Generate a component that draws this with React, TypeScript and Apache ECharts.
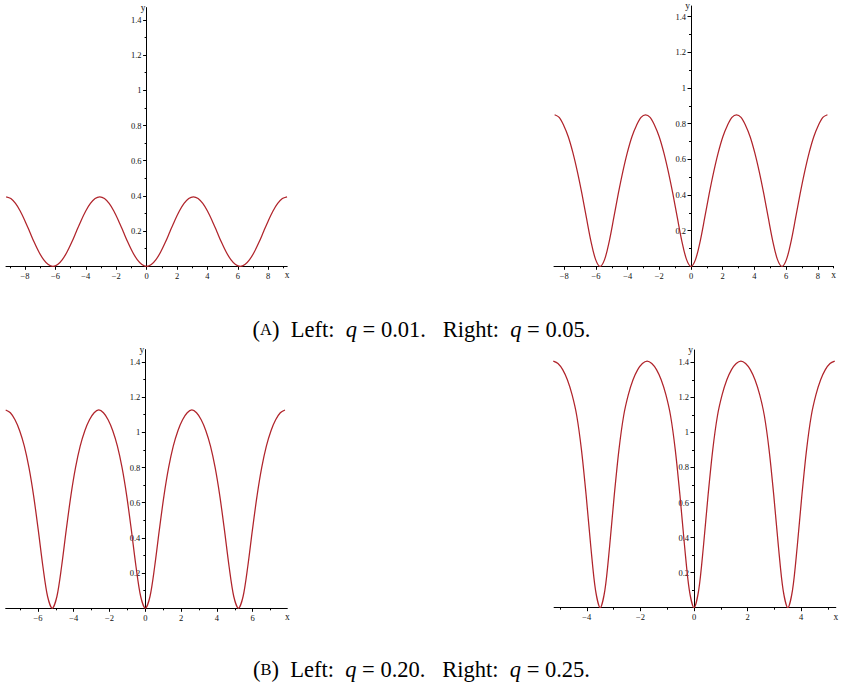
import React, { useEffect, useRef } from "react";
import * as echarts from "echarts";

// ---- data ----
// q = 0.01
const x1 = [-9.24, -8.932, -8.624, -8.316, -8.008, -7.7, -7.392, -7.084, -6.776, -6.468, -6.16, -5.852, -5.544, -5.236, -4.928, -4.62, -4.312, -4.004, -3.696, -3.388, -3.08, -2.772, -2.464, -2.156, -1.848, -1.54, -1.232, -0.924, -0.616, -0.308, 0, 0.308, 0.616, 0.924, 1.232, 1.54, 1.848, 2.156, 2.464, 2.772, 3.08, 3.388, 3.696, 4.004, 4.312, 4.62, 4.928, 5.236, 5.544, 5.852, 6.16, 6.468, 6.776, 7.084, 7.392, 7.7, 8.008, 8.316, 8.624, 8.932, 9.24];
const y1 = [0.395, 0.385, 0.357, 0.314, 0.259, 0.198, 0.136, 0.081, 0.038, 0.01, 0, 0.01, 0.038, 0.081, 0.136, 0.198, 0.259, 0.314, 0.357, 0.385, 0.395, 0.385, 0.357, 0.314, 0.259, 0.198, 0.136, 0.081, 0.038, 0.01, 0, 0.01, 0.038, 0.081, 0.136, 0.198, 0.259, 0.314, 0.357, 0.385, 0.395, 0.385, 0.357, 0.314, 0.259, 0.198, 0.136, 0.081, 0.038, 0.01, 0, 0.01, 0.038, 0.081, 0.136, 0.198, 0.259, 0.314, 0.357, 0.385, 0.395];

// q = 0.05
const x2 = [-8.61, -8.323, -8.036, -7.749, -7.462, -7.175, -6.888, -6.601, -6.314, -6.027, -5.74, -5.453, -5.166, -4.879, -4.592, -4.305, -4.018, -3.731, -3.444, -3.157, -2.87, -2.583, -2.296, -2.009, -1.722, -1.435, -1.148, -0.861, -0.574, -0.287, 0, 0.287, 0.574, 0.861, 1.148, 1.435, 1.722, 2.009, 2.296, 2.583, 2.87, 3.157, 3.444, 3.731, 4.018, 4.305, 4.592, 4.879, 5.166, 5.453, 5.74, 6.027, 6.314, 6.601, 6.888, 7.175, 7.462, 7.749, 8.036, 8.323, 8.61];
const y2 = [0.85, 0.835, 0.79, 0.727, 0.639, 0.531, 0.407, 0.271, 0.139, 0.039, 0, 0.039, 0.139, 0.271, 0.407, 0.531, 0.639, 0.727, 0.79, 0.835, 0.85, 0.835, 0.79, 0.727, 0.639, 0.531, 0.407, 0.271, 0.139, 0.039, 0, 0.039, 0.139, 0.271, 0.407, 0.531, 0.639, 0.727, 0.79, 0.835, 0.85, 0.835, 0.79, 0.727, 0.639, 0.531, 0.407, 0.271, 0.139, 0.039, 0, 0.039, 0.139, 0.271, 0.407, 0.531, 0.639, 0.727, 0.79, 0.835, 0.85];

// q = 0.20
const x3 = [-7.8, -7.54, -7.28, -7.02, -6.76, -6.5, -6.24, -5.98, -5.72, -5.46, -5.2, -4.94, -4.68, -4.42, -4.16, -3.9, -3.64, -3.38, -3.12, -2.86, -2.6, -2.34, -2.08, -1.82, -1.56, -1.3, -1.04, -0.78, -0.52, -0.26, 0, 0.26, 0.52, 0.78, 1.04, 1.3, 1.56, 1.82, 2.08, 2.34, 2.6, 2.86, 3.12, 3.38, 3.64, 3.9, 4.16, 4.42, 4.68, 4.94, 5.2, 5.46, 5.72, 5.98, 6.24, 6.5, 6.76, 7.02, 7.28, 7.54, 7.8];
const y3 = [1.127, 1.111, 1.071, 1.009, 0.921, 0.799, 0.639, 0.444, 0.236, 0.067, 0, 0.067, 0.236, 0.444, 0.639, 0.799, 0.921, 1.009, 1.071, 1.111, 1.127, 1.111, 1.071, 1.009, 0.921, 0.799, 0.639, 0.444, 0.236, 0.067, 0, 0.067, 0.236, 0.444, 0.639, 0.799, 0.921, 1.009, 1.071, 1.111, 1.127, 1.111, 1.071, 1.009, 0.921, 0.799, 0.639, 0.444, 0.236, 0.067, 0, 0.067, 0.236, 0.444, 0.639, 0.799, 0.921, 1.009, 1.071, 1.111, 1.127];

// q = 0.25
const x4 = [-5.25, -5.075, -4.9, -4.725, -4.55, -4.375, -4.2, -4.025, -3.85, -3.675, -3.5, -3.325, -3.15, -2.975, -2.8, -2.625, -2.45, -2.275, -2.1, -1.925, -1.75, -1.575, -1.4, -1.225, -1.05, -0.875, -0.7, -0.525, -0.35, -0.175, 0, 0.175, 0.35, 0.525, 0.7, 0.875, 1.05, 1.225, 1.4, 1.575, 1.75, 1.925, 2.1, 2.275, 2.45, 2.625, 2.8, 2.975, 3.15, 3.325, 3.5, 3.675, 3.85, 4.025, 4.2, 4.375, 4.55, 4.725, 4.9, 5.075, 5.25];
const y4 = [1.407, 1.393, 1.358, 1.3, 1.215, 1.095, 0.902, 0.642, 0.348, 0.1, 0, 0.1, 0.348, 0.642, 0.902, 1.095, 1.215, 1.3, 1.358, 1.393, 1.407, 1.393, 1.358, 1.3, 1.215, 1.095, 0.902, 0.642, 0.348, 0.1, 0, 0.1, 0.348, 0.642, 0.902, 1.095, 1.215, 1.3, 1.358, 1.393, 1.407, 1.393, 1.358, 1.3, 1.215, 1.095, 0.902, 0.642, 0.348, 0.1, 0, 0.1, 0.348, 0.642, 0.902, 1.095, 1.215, 1.3, 1.358, 1.393, 1.407];

// tick labels
const xMajor1 = [-8, -6, -4, -2, 0, 2, 4, 6, 8];
const xMinor1 = [-9, -7, -5, -3, -1, 1, 3, 5, 7, 9];
const xMajor2 = [-8, -6, -4, -2, 0, 2, 4, 6, 8];
const xMinor2 = [-7, -5, -3, -1, 1, 3, 5, 7, 9];
const xMajor3 = [-6, -4, -2, 0, 2, 4, 6];
const xMinor3 = [-7, -5, -3, -1, 1, 3, 5, 7];
const xMajor4 = [-4, -2, 0, 2, 4];
const xMinor4 = [-5, -3, -1, 1, 3, 5];
const yMajor = [0.2, 0.4, 0.6, 0.8, 1, 1.2, 1.4];
const yMinor = [0.1, 0.3, 0.5, 0.7, 0.9, 1.1, 1.3];

const captionA = { label: "A", left: "0.01", right: "0.05" };
const captionB = { label: "B", left: "0.20", right: "0.25" };

// ---- layout (pixels) ----
const panels = [
  { xs: x1, ys: y1, xMin: -9.25, xMax: 9.25, yMax: 1.47, major: xMajor1, minor: xMinor1, grid: { left: 6, top: 7.6, width: 281.2, height: 258.7 } },
  { xs: x2, ys: y2, xMin: -8.65, xMax: 9.0, yMax: 1.46, major: xMajor2, minor: xMinor2, grid: { left: 554, top: 6, width: 279.6, height: 260.3 } },
  { xs: x3, ys: y3, xMin: -7.8, xMax: 7.93, yMax: 1.47, major: xMajor3, minor: xMinor3, grid: { left: 5.7, top: 349.6, width: 281.6, height: 258.7 } },
  { xs: x4, ys: y4, xMin: -5.22, xMax: 5.29, yMax: 1.47, major: xMajor4, minor: xMinor4, grid: { left: 554.1, top: 350, width: 281.7, height: 257.7 } },
];

const FONT = "Liberation Serif";
const LINE = "#b0242b";

const fmtNum = (v: number) => {
  const r = Math.round(v * 100) / 100;
  return r < 0 ? "\u2212" + String(-r) : String(r);
};

function buildOption() {
  const grid: any[] = [];
  const xAxis: any[] = [];
  const yAxis: any[] = [];
  const series: any[] = [];
  panels.forEach((p, i) => {
    grid.push({ ...p.grid, containLabel: false, outerBoundsMode: "none" });
    // shift y-axis from grid's left edge to the x = 0 position
    const yOffset = -((0 - p.xMin) / (p.xMax - p.xMin)) * p.grid.width;
    const labelStyle = { fontFamily: FONT, fontSize: 8.5, color: "#111" };
    xAxis.push({
      type: "value",
      gridIndex: i,
      min: p.xMin,
      max: p.xMax,
      position: "bottom",
      name: "x",
      nameLocation: "end",
      nameGap: 0,
      nameTextStyle: { fontFamily: FONT, fontSize: 9.5, color: "#111", align: "center", verticalAlign: "top", padding: [4, 0, 0, 0] },
      axisLine: { show: true, onZero: false, lineStyle: { color: "#000", width: 1 } },
      axisTick: { show: true, customValues: p.major, length: 3.5, lineStyle: { color: "#000", width: 1 } },
      axisLabel: { show: true, customValues: p.major, margin: 5, formatter: (v: number) => fmtNum(v), ...labelStyle },
      splitLine: { show: false },
    });
    xAxis.push({
      type: "value",
      gridIndex: i,
      min: p.xMin,
      max: p.xMax,
      position: "bottom",
      axisLine: { show: false, onZero: false },
      axisTick: { show: true, customValues: p.minor, length: 2, lineStyle: { color: "#000", width: 1 } },
      axisLabel: { show: false },
      splitLine: { show: false },
    });
    yAxis.push({
      type: "value",
      gridIndex: i,
      min: 0,
      max: p.yMax,
      position: "left",
      offset: yOffset,
      name: "y",
      nameLocation: "end",
      nameGap: 0,
      nameTextStyle: { fontFamily: FONT, fontSize: 9.5, color: "#111", align: "right", verticalAlign: "middle", padding: [0, 1, 0, 0] },
      axisLine: { show: true, onZero: false, lineStyle: { color: "#000", width: 1 } },
      axisTick: { show: true, customValues: yMajor, length: 3.5, lineStyle: { color: "#000", width: 1 } },
      axisLabel: { show: true, customValues: yMajor, margin: 5, formatter: (v: number) => fmtNum(v), ...labelStyle },
      splitLine: { show: false },
    });
    yAxis.push({
      type: "value",
      gridIndex: i,
      min: 0,
      max: p.yMax,
      position: "left",
      offset: yOffset,
      axisLine: { show: false, onZero: false },
      axisTick: { show: true, customValues: yMinor, length: 2, lineStyle: { color: "#000", width: 1 } },
      axisLabel: { show: false },
      splitLine: { show: false },
    });
    series.push({
      type: "line",
      xAxisIndex: 2 * i,
      yAxisIndex: 2 * i,
      data: p.xs.map((x, k) => [x, p.ys[k]]),
      showSymbol: false,
      smooth: 0.3,
      lineStyle: { color: LINE, width: 1.25 },
      itemStyle: { color: LINE },
      silent: true,
    });
  });

  const cap = (c: { label: string; left: string; right: string }) =>
    `{r|(}{sc|${c.label}}{r|)  Left:  }{it|q}{r| = ${c.left}.   Right:  }{it|q}{r| = ${c.right}.}`;
  const rich = {
    r: { fontFamily: FONT, fontSize: 22.5, fill: "#000", color: "#000" },
    sc: { fontFamily: FONT, fontSize: 16.5, fill: "#000", color: "#000" },
    it: { fontFamily: FONT, fontSize: 22.5, fontStyle: "italic", fill: "#000", color: "#000" },
  };

  return {
    animation: false,
    backgroundColor: "#fff",
    grid,
    xAxis,
    yAxis,
    series,
    graphic: [
      { type: "text", x: 421.5, y: 329, style: { text: cap(captionA), rich, align: "center", verticalAlign: "middle" } },
      { type: "text", x: 421.5, y: 669, style: { text: cap(captionB), rich, align: "center", verticalAlign: "middle" } },
    ],
  };
}

export default function App() {
  const ref = useRef<HTMLDivElement>(null);
  useEffect(() => {
    if (!ref.current) return;
    const chart = echarts.init(ref.current, null, { renderer: "svg" });
    chart.setOption(buildOption() as any);
    return () => chart.dispose();
  }, []);
  return <div ref={ref} style={{ position: "absolute", left: 0, top: 0, width: 843, height: 690, background: "#fff" }} />;
}
